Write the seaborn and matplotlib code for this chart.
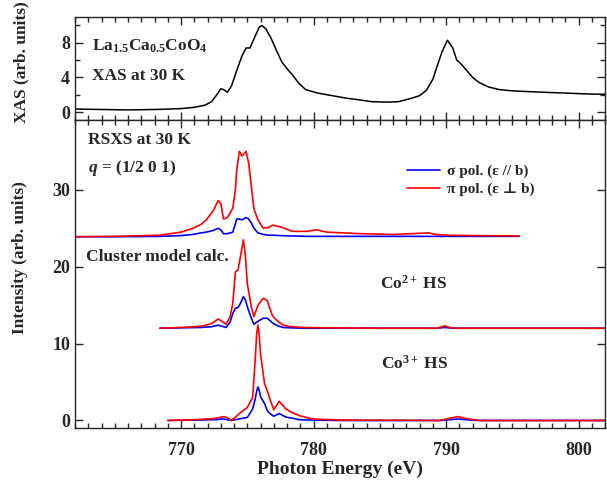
#!/usr/bin/env python3
"""
XAS and RSXS spectra of La1.5Ca0.5CoO4 at the Co L edge,
with cluster model calculations for Co2+ HS and Co3+ HS.
"""

import pandas as pd
import matplotlib.pyplot as plt
import seaborn as sns
from matplotlib.ticker import MultipleLocator

# XAS at 30 K (top panel)
xas_energy = [762, 764, 766, 768, 770, 771, 771.8, 772.3, 772.7, 773.0, 773.2, 773.5,
              773.8, 774.2, 774.6, 774.9, 775.2, 775.6, 775.9, 776.1, 776.4, 776.8,
              777.2, 777.6, 778.0, 778.4, 778.9, 779.4, 780.3, 781.4, 782.5, 783.5,
              784.4, 785.5, 786.4, 787.4, 788.0, 788.5, 789.0, 789.3, 789.7, 790.1,
              790.5, 790.8, 791.1, 791.5, 792.0, 792.5, 793.2, 794.0, 795.0, 796.4,
              798.0, 799.0, 800.5, 802]
xas_values = [0.35, 0.3, 0.25, 0.3, 0.4, 0.55, 0.8, 1.2, 2.0, 2.7, 2.6, 2.3,
              3.0, 4.8, 6.5, 7.4, 7.4, 8.8, 9.8, 10.0, 9.6, 8.5,
              7.1, 5.8, 5.0, 4.3, 3.3, 2.6, 2.2, 1.9, 1.6, 1.4,
              1.2, 1.15, 1.2, 1.6, 1.9, 2.5, 3.8, 5.2, 7.0, 8.3,
              7.4, 6.0, 5.6, 4.9, 4.0, 3.4, 2.9, 2.6, 2.45, 2.35,
              2.25, 2.2, 2.1, 2.05]

# RSXS at 30 K, q = (1/2 0 1), offset by 24
rsxs_energy = [762, 765, 768.4, 770, 770.9, 771.5, 771.9, 772.4, 772.8, 773.0, 773.2,
               773.5, 773.9, 774.1, 774.2, 774.4, 774.6, 774.9, 775.1, 775.3, 775.5,
               775.8, 776.2, 776.6, 776.9, 777.5, 778.4, 779.5, 780.2, 781.0, 783.5,
               786, 788.7, 789.2, 790, 792, 795.5]
rsxs_pi = [23.9, 23.95, 24.1, 24.5, 25.0, 25.5, 26.1, 27.2, 28.6, 28.2, 26.2,
           26.4, 27.6, 30.0, 32.6, 35.0, 34.4, 35.0, 33.5, 30.5, 27.5,
           26.1, 25.0, 25.1, 25.4, 25.2, 24.6, 24.6, 24.8, 24.5, 24.3,
           24.2, 24.4, 24.2, 24.1, 24.05, 24.0]
rsxs_sigma = [23.9, 23.9, 23.95, 24.05, 24.2, 24.4, 24.5, 24.7, 25.0, 24.8, 24.3,
              24.3, 24.5, 25.6, 26.2, 26.2, 26.1, 26.4, 26.2, 25.7, 25.0,
              24.4, 24.2, 24.1, 24.1, 24.05, 24.0, 23.95, 23.95, 23.95, 23.95,
              23.95, 23.95, 23.95, 23.95, 23.95, 23.95]

# cluster model, Co2+ HS, offset by 12
co2_energy = [768.4, 770, 771.5, 772.3, 772.8, 773.1, 773.4, 773.7, 773.9, 774.1,
              774.3, 774.5, 774.7, 774.85, 775.0, 775.3, 775.5, 775.8, 776.2, 776.5,
              776.9, 777.3, 777.7, 778.3, 779.2, 781, 785, 789.3, 789.9, 790.5,
              795, 802]
co2_pi = [12.0, 12.1, 12.25, 12.6, 13.2, 12.9, 12.5, 13.5, 15.2, 19.3,
          19.6, 21.5, 23.5, 21.5, 17.8, 14.8, 13.5, 15.0, 15.9, 15.6,
          13.6, 12.9, 12.4, 12.2, 12.1, 12.05, 12.0, 12.0, 12.3, 12.0,
          12.0, 12.0]
co2_sigma = [12.0, 12.05, 12.1, 12.2, 12.4, 12.25, 12.1, 12.8, 13.9, 14.6,
             14.7, 15.3, 16.1, 15.7, 14.8, 13.3, 12.5, 12.9, 13.3, 13.3,
             12.7, 12.3, 12.1, 12.05, 12.0, 12.0, 12.0, 12.0, 12.1, 12.0,
             12.0, 12.0]

# cluster model, Co3+ HS
co3_energy = [769.0, 771, 772.5, 773.2, 773.5, 773.8, 774.4, 775.0, 775.4, 775.6,
              775.7, 775.8, 775.9, 776.0, 776.3, 776.5, 776.7, 777.0, 777.4, 777.9,
              778.4, 778.9, 779.9, 782, 789.5, 790.3, 790.9, 791.5, 792.5, 802]
co3_pi = [0, 0.1, 0.25, 0.5, 0.35, 0.0, 0.9, 1.7, 3.0, 8.0,
          11.2, 12.4, 11.0, 8.6, 4.8, 3.9, 2.8, 1.4, 2.5, 1.5,
          1.0, 0.65, 0.2, 0.05, 0.0, 0.3, 0.5, 0.25, 0.0, 0.0]
co3_sigma = [0, 0.05, 0.1, 0.2, 0.1, 0.0, 0.2, 0.4, 1.5, 2.8,
             3.8, 4.35, 3.9, 3.1, 2.2, 1.3, 0.9, 0.55, 0.9, 0.45,
             0.3, 0.1, 0.05, 0.0, 0.0, 0.1, 0.2, 0.1, 0.0, 0.0]

SIGMA_COLOR = '#0000ff'
PI_COLOR = '#ff0000'

sns.set_style('ticks')
plt.rcParams['font.family'] = ['Liberation Serif', 'DejaVu Serif']
plt.rcParams['font.weight'] = 'bold'
plt.rcParams['mathtext.fontset'] = 'custom'
plt.rcParams['mathtext.rm'] = 'Liberation Serif:bold'
plt.rcParams['mathtext.it'] = 'Liberation Serif:italic:bold'
plt.rcParams['mathtext.bf'] = 'Liberation Serif:bold'
plt.rcParams['axes.linewidth'] = 1.0

fig = plt.figure(figsize=(6.07, 4.80), dpi=100)
gs = fig.add_gridspec(2, 1, height_ratios=[103, 308], hspace=0,
                      left=0.1236, right=0.997, top=0.965, bottom=0.108)
ax_top = fig.add_subplot(gs[0])
ax_bot = fig.add_subplot(gs[1], sharex=ax_top)

# top panel: XAS
sns.lineplot(x=xas_energy, y=xas_values, ax=ax_top, color='black', lw=1.1)

# bottom panel: RSXS and cluster model
curves = [
    (rsxs_energy, rsxs_sigma, rsxs_pi),
    (co2_energy, co2_sigma, co2_pi),
    (co3_energy, co3_sigma, co3_pi),
]
for i, (e, s, p) in enumerate(curves):
    df = pd.DataFrame({'energy': e, 'sigma': s, 'pi': p})
    sns.lineplot(data=df, x='energy', y='sigma', ax=ax_bot, color=SIGMA_COLOR, lw=1.2,
                 label='σ pol. (ε // b)' if i == 0 else None)
    sns.lineplot(data=df, x='energy', y='pi', ax=ax_bot, color=PI_COLOR, lw=1.2,
                 label='π pol. (ε ⊥ b)' if i == 0 else None)

ax_top.set_xlim(762, 802)
ax_top.set_ylim(-0.9, 11)
ax_bot.set_ylim(-1.0, 39.1)

ax_top.yaxis.set_major_locator(MultipleLocator(4))
ax_top.yaxis.set_minor_locator(MultipleLocator(2))
ax_bot.yaxis.set_major_locator(MultipleLocator(10))
ax_bot.xaxis.set_major_locator(MultipleLocator(10))
ax_bot.xaxis.set_minor_locator(MultipleLocator(1))

for ax in (ax_top, ax_bot):
    ax.tick_params(which='both', direction='in', top=True, right=True, labelsize=13)
    ax.tick_params(which='major', length=6, width=1.0)
    ax.tick_params(which='minor', length=3.5, width=1.0)
    for lab in ax.get_xticklabels() + ax.get_yticklabels():
        lab.set_fontweight('bold')
ax_top.tick_params(labelbottom=False)
ax_bot.tick_params(axis='x', which='major', pad=10)

ax_top.set_xlabel('')
ax_top.set_ylabel('XAS (arb. units)', fontsize=12.5, fontweight='bold')
ax_bot.set_ylabel('Intensity (arb. units)', fontsize=12.5, fontweight='bold')
ax_bot.set_xlabel('Photon Energy (eV)', fontsize=14, fontweight='bold', labelpad=1)
ax_top.yaxis.set_label_coords(-0.087, 0.56)
ax_bot.yaxis.set_label_coords(-0.089, 0.555)

# annotations
txt = dict(fontsize=12.5, fontweight='bold', va='center', ha='left')
ax_top.text(0.032, 0.71, r'La$_{1.5}$Ca$_{0.5}$CoO$_4$', transform=ax_top.transAxes, **txt)
ax_top.text(0.032, 0.43, 'XAS at 30 K', transform=ax_top.transAxes, **txt)
ax_bot.text(0.025, 0.935, 'RSXS at 30 K', transform=ax_bot.transAxes, **txt)
ax_bot.text(0.025, 0.845, r'$q$ = (1/2 0 1)', transform=ax_bot.transAxes, **txt)
ax_bot.text(0.020, 0.555, 'Cluster model calc.', transform=ax_bot.transAxes, **txt)
ax_bot.text(0.575, 0.47, r'Co$^{2+}$ HS', transform=ax_bot.transAxes, **txt)
ax_bot.text(0.577, 0.21, r'Co$^{3+}$ HS', transform=ax_bot.transAxes, **txt)

leg = ax_bot.legend(loc='upper left', bbox_to_anchor=(0.6, 0.9), frameon=False,
                    fontsize=11, handlelength=2.2, handletextpad=0.4, labelspacing=0.25)
for t in leg.get_texts():
    t.set_fontweight('bold')

plt.savefig('out.png', dpi=100)
plt.close()
print('Saved out.png')
